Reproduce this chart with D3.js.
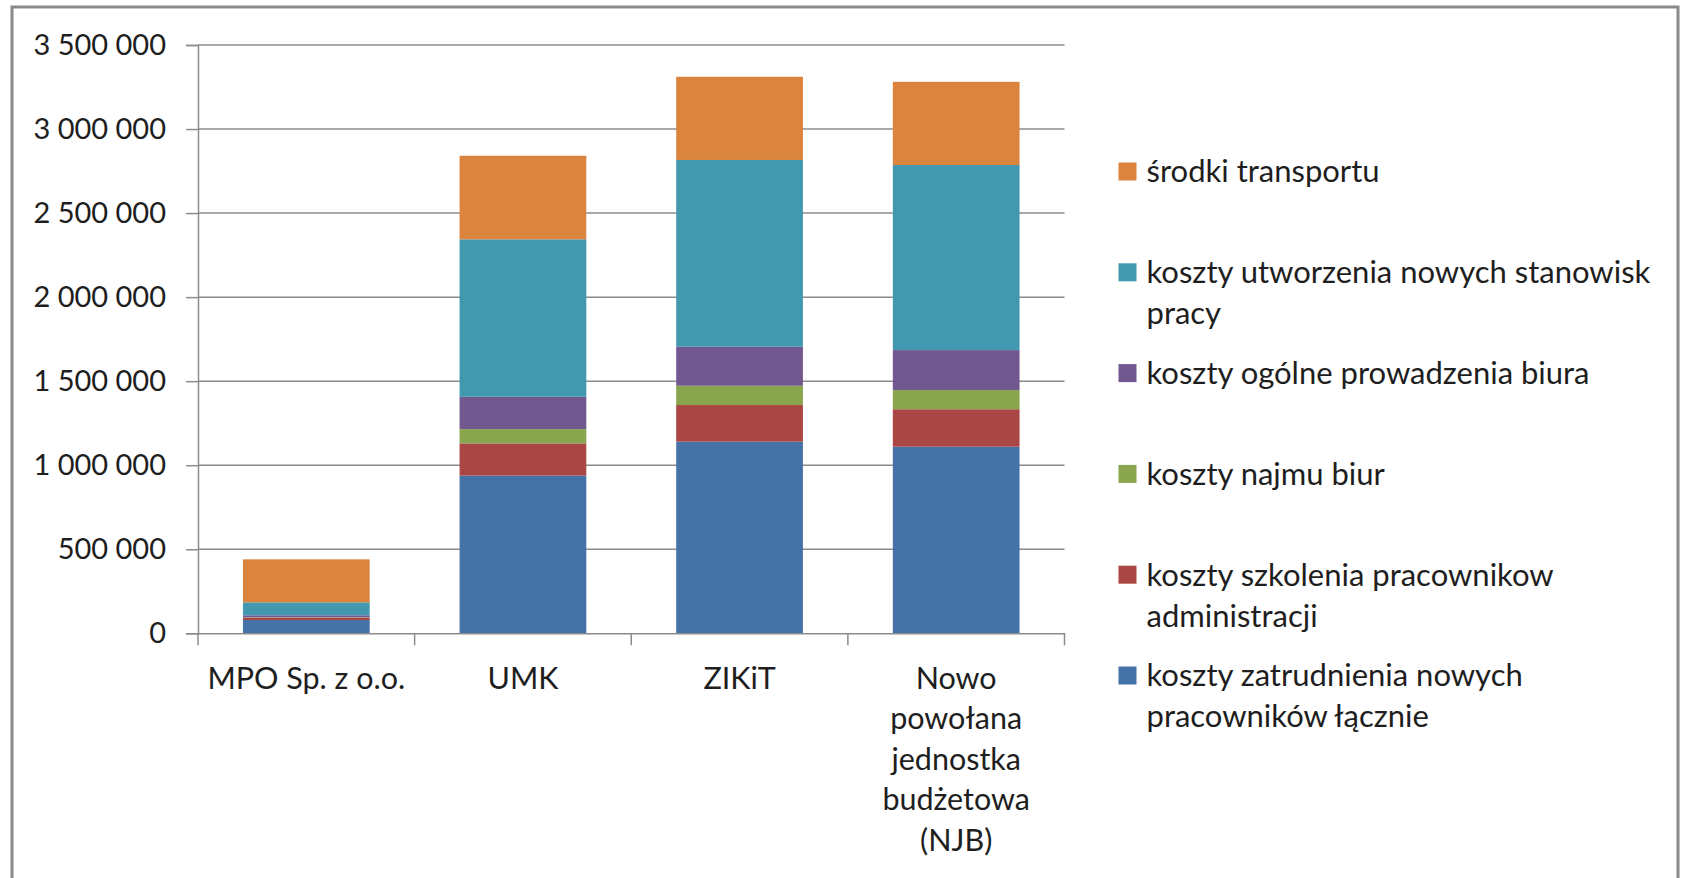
<!DOCTYPE html>
<html>
<head>
<meta charset="utf-8">
<script src="https://cdn.jsdelivr.net/npm/d3@7"></script>
<style>
    body { margin: 0; background: #fff; }
    text { font-family: Lato, "Open Sans", sans-serif; fill: #1e1e1e; }
</style>
</head>
<body>
<div id="chart"></div>
<script>
const svgWidth = 1681;
const svgHeight = 878;

// categories (line breaks as in the original labels)
const categories = ["MPO Sp. z o.o.", "UMK", "ZIKiT", "Nowo\npowołana\njednostka\nbudżetowa\n(NJB)"];

// series, bottom to top
const seriesNames = [
    "koszty zatrudnienia nowych\npracowników łącznie",
    "koszty szkolenia pracownikow\nadministracji",
    "koszty najmu biur",
    "koszty ogólne prowadzenia biura",
    "koszty utworzenia nowych stanowisk\npracy",
    "środki transportu"
];
const zatrudnienie = [79000, 938000, 1140000, 1110000];
const szkolenia = [14000, 192000, 218000, 223000];
const najem = [2000, 85000, 115000, 114000];
const ogolne = [12000, 192000, 232000, 238000];
const stanowiska = [77000, 937000, 1111000, 1101000];
const transport = [256000, 497000, 495000, 495000];

const seriesColors = ["#4572A7", "#AA4643", "#89A54E", "#71588F", "#4198AF", "#DB843D"];
const yTicks = [0, 500000, 1000000, 1500000, 2000000, 2500000, 3000000, 3500000];

const seriesValues = [zatrudnienie, szkolenia, najem, ogolne, stanowiska, transport];

// build table for d3.stack
const table = categories.map((c, i) => {
    const row = { category: c };
    seriesNames.forEach((s, j) => { row[s] = seriesValues[j][i]; });
    return row;
});

const svg = d3.select("#chart")
    .append("svg")
    .attr("width", svgWidth)
    .attr("height", svgHeight);

// outer frame
svg.append("rect")
    .attr("x", 12)
    .attr("y", 7)
    .attr("width", 1666)
    .attr("height", 900)
    .attr("fill", "none")
    .attr("stroke", "#8a8a8a")
    .attr("stroke-width", 3);

const x = d3.scaleBand()
    .domain(categories)
    .range([198, 1064.5])
    .paddingInner(0.415)
    .paddingOuter(0.2075);

const y = d3.scaleLinear()
    .domain([0, 3500000])
    .range([633.3, 45]);

// gridlines
svg.append("g")
    .selectAll("line")
    .data(yTicks.slice(1))
    .enter()
    .append("line")
    .attr("x1", 198)
    .attr("x2", 1064.5)
    .attr("y1", d => y(d))
    .attr("y2", d => y(d))
    .attr("stroke", "#8c8c8c")
    .attr("stroke-width", 1.5);

// y axis
const fmt = d => d3.format(",")(d).replace(/,/g, " ");
const leftAxis = d3.axisLeft(y)
    .tickValues(yTicks)
    .tickFormat(fmt)
    .tickSize(12)
    .tickPadding(20);

const yAxis = svg.append("g")
    .attr("transform", "translate(198,0)")
    .call(leftAxis);
yAxis.select(".domain").attr("stroke", "#8c8c8c").attr("stroke-width", 1.5);
yAxis.selectAll(".tick line").attr("stroke", "#8c8c8c").attr("stroke-width", 1.5);
yAxis.selectAll(".tick text")
    .style("font-size", "29px")
    .style("font-family", "Lato, sans-serif")
    .attr("fill", "#1e1e1e");

// stacked bars
const stack = d3.stack().keys(seriesNames);
const layers = stack(table);

svg.append("g")
    .selectAll("g")
    .data(layers)
    .enter()
    .append("g")
    .attr("fill", (d, i) => seriesColors[i])
    .selectAll("rect")
    .data(d => d)
    .enter()
    .append("rect")
    .attr("x", d => x(d.data.category))
    .attr("width", x.bandwidth())
    .attr("y", d => y(d[1]))
    .attr("height", d => y(d[0]) - y(d[1]));

// x axis
const bottomAxis = d3.axisBottom(x).tickSize(0).tickFormat("");
const xAxis = svg.append("g")
    .attr("transform", `translate(0, ${y(0)})`)
    .call(bottomAxis);
xAxis.select(".domain").attr("stroke", "#8c8c8c").attr("stroke-width", 1.5);

// category separators on x axis
const sepX = categories.map(c => x(c) - x.step() * x.paddingInner() / 2);
sepX.push(1064.5);
svg.append("g")
    .selectAll("line")
    .data(sepX)
    .enter()
    .append("line")
    .attr("x1", d => d)
    .attr("x2", d => d)
    .attr("y1", y(0))
    .attr("y2", y(0) + 12)
    .attr("stroke", "#8c8c8c")
    .attr("stroke-width", 1.5);

// category labels
const catLabels = svg.append("g")
    .selectAll("text")
    .data(categories)
    .enter()
    .append("text")
    .attr("text-anchor", "middle")
    .style("font-size", "30.5px");

catLabels.each(function(c) {
    const lines = c.split("\n");
    d3.select(this).selectAll("tspan")
        .data(lines)
        .enter()
        .append("tspan")
        .attr("x", x(c) + x.bandwidth() / 2)
        .attr("y", (l, i) => 678 + i * 40.5)
        .attr("dy", "0.35em")
        .text(l => l);
});

// legend (top entry = last series)
const legend = svg.append("g")
    .selectAll("g")
    .data(seriesNames.slice().reverse())
    .enter()
    .append("g")
    .attr("transform", (d, i) => `translate(1118.5, ${171.5 + i * 100.8})`);

legend.append("rect")
    .attr("x", 0)
    .attr("y", -9)
    .attr("width", 18)
    .attr("height", 18)
    .attr("fill", d => seriesColors[seriesNames.indexOf(d)]);

legend.append("text")
    .style("font-size", "31px")
    .each(function(s) {
        d3.select(this).selectAll("tspan")
            .data(s.split("\n"))
            .enter()
            .append("tspan")
            .attr("x", 28)
            .attr("y", (l, i) => i * 41)
            .attr("dy", "0.35em")
            .text(l => l);
    });
</script>
</body>
</html>
